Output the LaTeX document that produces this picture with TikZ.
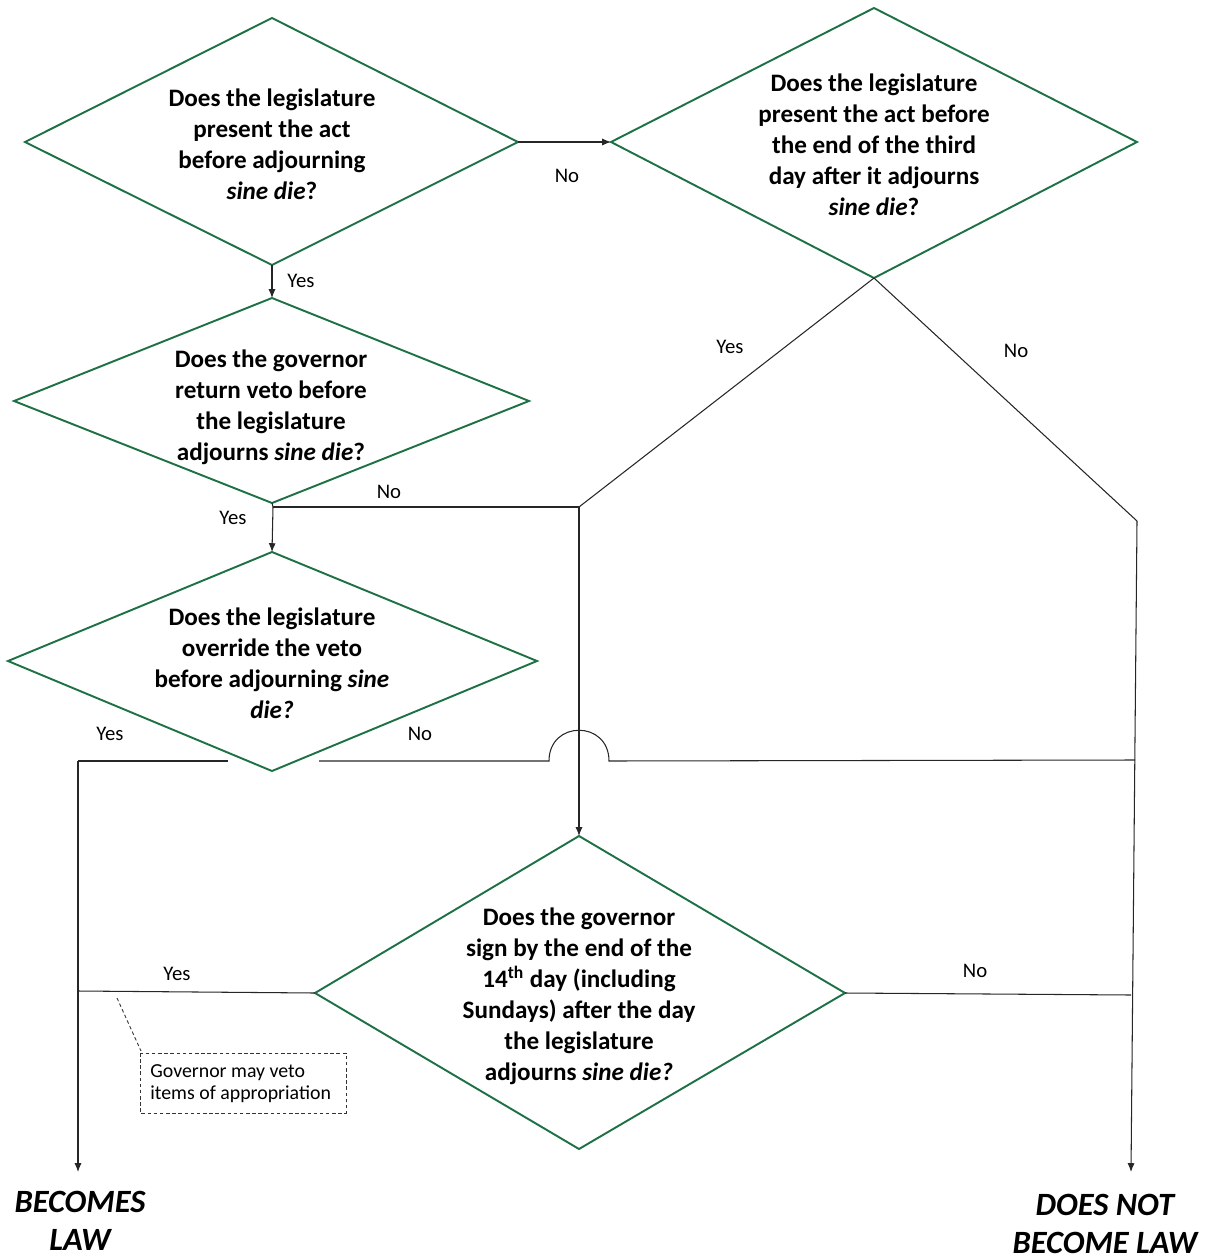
\documentclass[tikz,border=0pt]{standalone}
\usepackage{fontspec}
\setmainfont{Carlito}
\usetikzlibrary{arrows.meta}
\definecolor{dgreen}{RGB}{30,113,69}
\begin{document}
\begin{tikzpicture}[x=0.02cm,y=-0.02cm,
 dia/.style={draw=dgreen,line width=1.1pt,line join=miter},
 qtext/.style={font=\fontsize{14.3}{17.6}\selectfont\bfseries,align=center,inner sep=0},
 lbl/.style={font=\fontsize{11.8}{14}\selectfont,inner sep=0},
 conn/.style={draw=black!85,line width=0.6pt},
 arr/.style={conn,-{Latex[length=5pt,width=4pt]}},
 notebox/.style={draw=black!80,dashed,line width=0.5pt,dash pattern=on 2pt off 1.5pt},
 notetext/.style={font=\fontsize{11.3}{12.6}\selectfont,align=left,inner sep=0,anchor=west},
 endtext/.style={font=\fontsize{18.5}{21.5}\selectfont\bfseries\itshape,align=center,inner sep=0}]
\useasboundingbox (0,0) rectangle (1217,1260);

% diamond vertices
\coordinate (d1l) at (25,142);  \coordinate (d1t) at (272,18);  \coordinate (d1r) at (518,142);  \coordinate (d1b) at (272,265);
\coordinate (d2l) at (611,142); \coordinate (d2t) at (874,8);   \coordinate (d2r) at (1137,142); \coordinate (d2b) at (874,278);
\coordinate (d3l) at (14,401);  \coordinate (d3t) at (272,298); \coordinate (d3r) at (529,401);  \coordinate (d3b) at (272,503);
\coordinate (d4l) at (8,661);   \coordinate (d4t) at (272,552); \coordinate (d4r) at (537,661);  \coordinate (d4b) at (272,771);
\coordinate (d5l) at (315,993); \coordinate (d5t) at (579,836); \coordinate (d5r) at (845,993);  \coordinate (d5b) at (579,1149);

\draw[dia] (d1l) -- (d1t) -- (d1r) -- (d1b) -- cycle;
\draw[dia] (d2l) -- (d2t) -- (d2r) -- (d2b) -- cycle;
\draw[dia] (d3l) -- (d3t) -- (d3r) -- (d3b) -- cycle;
\draw[dia] (d4l) -- (d4t) -- (d4r) -- (d4b) -- cycle;
\draw[dia] (d5l) -- (d5t) -- (d5r) -- (d5b) -- cycle;

% question texts
\node[qtext] (q1) at (272,144) {Does the legislature\\present the act\\before adjourning\\\textit{sine die}?};
\node[qtext] (q2) at (874,145) {Does the legislature\\present the act before\\the end of the third\\day after it adjourns\\\textit{sine die}?};
\node[qtext] (q3) at (271,407) {Does the governor\\return veto before\\the legislature\\adjourns \textit{sine die}?};
\node[qtext] (q4) at (272,663) {Does the legislature\\override the veto\\before adjourning \textit{sine}\\\textit{die?}};
\node[qtext] (q5) at (579,996) {Does the governor\\sign by the end of the\\14\textsuperscript{th} day (including\\Sundays) after the day\\the legislature\\adjourns \textit{sine die?}};

% junction coordinates
\coordinate (j1) at (273,507);
\coordinate (j2) at (579,507);
\coordinate (j3) at (1137,521);
\coordinate (j4) at (78,761);
\coordinate (d4ys) at (228,761);
\coordinate (d4ns) at (319,761);
\coordinate (hopL) at (549,761);
\coordinate (hopR) at (609,761);
\coordinate (j5) at (1135,760);
\coordinate (j6) at (78,991);
\coordinate (j7) at (1131,995);
\coordinate (endL) at (78,1172);
\coordinate (endR) at (1131,1172);

% connectors
\draw[arr] (d1r) -- (d2l);
\draw[arr] (d1b) -- (d3t);
\draw[conn] (d3b) -- (j1);
\draw[arr] (j1) -- (d4t);
\draw[conn] (j1) -- (j2);
\draw[arr] (j2) -- (d5t);
\draw[conn] (d2b) -- (j2);
\draw[conn] (d2b) -- (j3);
\draw[arr] (j3) -- (endR);
\draw[conn] (d4ys) -- (j4);
\draw[arr] (j4) -- (endL);
\draw[conn] (d4ns) -- (hopL) .. controls (549,720) and (609,720) .. (hopR) -- (j5);
\draw[conn] (d5l) -- (j6);
\draw[conn] (d5r) -- (j7);

% labels
\node[lbl] (l1) at (567,176) {No};
\node[lbl] (l2) at (301,281) {Yes};
\node[lbl] (l3) at (730,347) {Yes};
\node[lbl] (l4) at (1016,351) {No};
\node[lbl] (l5) at (389,492) {No};
\node[lbl] (l6) at (233,518) {Yes};
\node[lbl] (l7) at (110,734) {Yes};
\node[lbl] (l8) at (420,734) {No};
\node[lbl] (l9) at (177,974) {Yes};
\node[lbl] (l10) at (975,971) {No};

% note
\draw[notebox] (140,1053) rectangle (346,1113);
\node[notetext] (note) at (150,1084) {Governor may veto\\items of appropriation};
\coordinate (nt) at (117,998);
\coordinate (nb) at (141,1051);
\draw[notebox] (nt) -- (nb);

% outcomes
\node[endtext] (becomes) at (80,1221) {BECOMES\\LAW};
\node[endtext] (doesnot) at (1105,1224) {DOES NOT\\BECOME LAW};
\end{tikzpicture}
\end{document}
